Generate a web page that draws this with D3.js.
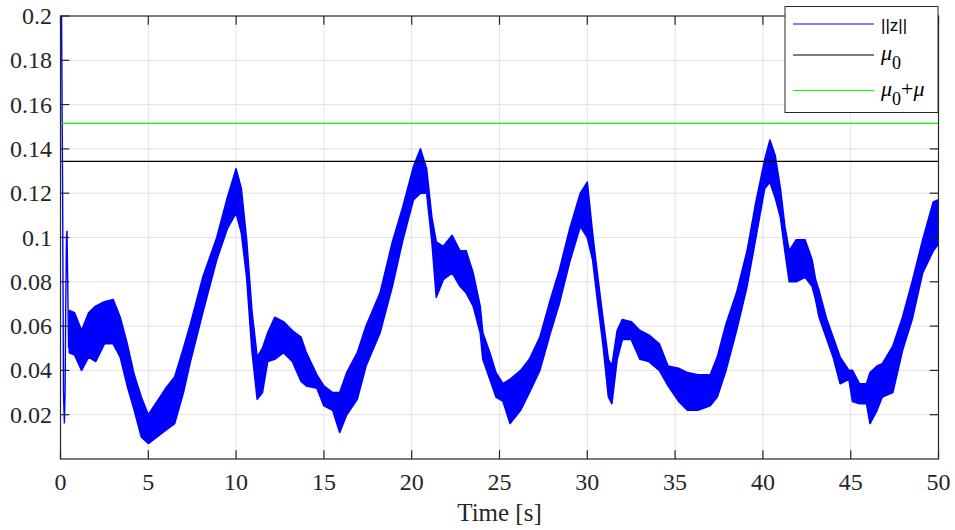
<!DOCTYPE html>
<html><head><meta charset="utf-8">
<script src="https://cdn.jsdelivr.net/npm/d3@7"></script>
<style>
body{margin:0;background:#fff}
text.serif{font-family:"Liberation Serif","Times New Roman",serif;}
text.sans{font-family:"Liberation Sans",Arial,sans-serif;}
</style>
</head><body><svg id="c" width="955" height="530"></svg>
<script>
// ---- data ----
const xTicks = [0,5,10,15,20,25,30,35,40,45,50];
const yTicks = [0.02,0.04,0.06,0.08,0.1,0.12,0.14,0.16,0.18,0.2];
const yTickLabels = ["0.02","0.04","0.06","0.08","0.1","0.12","0.14","0.16","0.18","0.2"];
const mu0 = 0.1344;
const mu0PlusMu = 0.1515;
// initial transient of ||z||
const transT = [0, 0.06, 0.12, 0.17, 0.22, 0.26, 0.3, 0.34, 0.37, 0.41, 0.46, 0.5];
const transV = [0.2, 0.2, 0.12, 0.03, 0.016, 0.03, 0.07, 0.1, 0.103, 0.08, 0.05, 0.06];
// upper / lower envelope of the dense oscillating ||z|| trace
const envT  = [0.5,0.8,1.2,1.6,2.0,2.5,3.0,3.4,3.8,4.2,4.6,5.0,5.5,6.0,6.5,7.0,7.4,8.1,8.9,9.5,10.0,10.3,10.6,10.9,11.2,11.5,11.8,12.2,12.7,13.2,13.7,14.0,14.6,15.0,15.5,15.9,16.3,16.9,17.4,18.2,18.9,19.5,20.1,20.5,20.85,21.15,21.4,21.8,22.3,22.75,23.1,23.5,23.9,24.05,24.45,24.8,25.2,25.6,26.2,26.7,27.3,27.9,28.4,29.0,29.6,30.0,30.3,30.6,30.9,31.2,31.4,31.7,32.0,32.5,33.0,33.5,34.1,34.6,35.2,35.7,36.3,37.0,37.4,37.9,38.5,39.1,39.6,40.1,40.4,40.7,41.0,41.25,41.5,41.9,42.4,42.8,43.0,43.2,43.6,44.0,44.4,44.9,45.1,45.5,45.9,46.1,46.5,46.8,47.4,47.95,48.5,49.1,49.7,50.0];
const envHi = [0.067,0.066,0.058,0.066,0.069,0.071,0.072,0.064,0.052,0.038,0.028,0.020,0.026,0.032,0.037,0.050,0.061,0.082,0.100,0.118,0.131,0.122,0.099,0.067,0.046,0.050,0.057,0.064,0.062,0.058,0.055,0.048,0.038,0.033,0.030,0.030,0.039,0.048,0.060,0.075,0.098,0.114,0.132,0.140,0.131,0.109,0.098,0.096,0.101,0.094,0.094,0.084,0.069,0.057,0.048,0.039,0.034,0.036,0.040,0.045,0.055,0.072,0.085,0.104,0.120,0.125,0.102,0.082,0.063,0.045,0.042,0.058,0.063,0.062,0.058,0.056,0.052,0.042,0.041,0.039,0.038,0.038,0.046,0.061,0.075,0.094,0.116,0.135,0.144,0.137,0.122,0.105,0.094,0.099,0.099,0.090,0.081,0.076,0.064,0.055,0.046,0.040,0.040,0.034,0.034,0.039,0.042,0.043,0.051,0.064,0.080,0.099,0.116,0.117];
const envLo = [0.048,0.047,0.040,0.046,0.044,0.052,0.052,0.046,0.033,0.022,0.010,0.007,0.010,0.013,0.016,0.030,0.044,0.066,0.090,0.104,0.111,0.102,0.082,0.049,0.027,0.030,0.044,0.045,0.048,0.044,0.035,0.033,0.032,0.024,0.022,0.012,0.020,0.027,0.042,0.057,0.078,0.099,0.117,0.120,0.120,0.098,0.073,0.081,0.084,0.078,0.075,0.069,0.057,0.045,0.036,0.028,0.026,0.016,0.022,0.030,0.040,0.057,0.070,0.089,0.105,0.100,0.090,0.070,0.051,0.028,0.025,0.045,0.054,0.054,0.045,0.044,0.040,0.033,0.026,0.022,0.022,0.024,0.028,0.040,0.058,0.078,0.100,0.122,0.125,0.118,0.109,0.094,0.080,0.080,0.082,0.078,0.072,0.064,0.055,0.046,0.034,0.036,0.026,0.025,0.025,0.016,0.022,0.028,0.030,0.049,0.063,0.084,0.094,0.097];

// ---- layout ----
const L = 60.5, R = 938.5, T = 16, B = 459;
const axisCol = "#262626", gridCol = "#e3e3e3";
const svg = d3.select("#c");
const x = d3.scaleLinear().domain([0,50]).range([L,R]);
const y = d3.scaleLinear().domain([0,0.2]).range([B,T]);

// grid
const g = svg.append("g");
g.selectAll("line.vg").data(xTicks.slice(1,-1)).enter().append("line")
  .attr("x1",d=>x(d)).attr("x2",d=>x(d)).attr("y1",T).attr("y2",B)
  .attr("stroke",gridCol).attr("stroke-width",1);
g.selectAll("line.hg").data(yTicks.slice(0,-1)).enter().append("line")
  .attr("y1",d=>y(d)).attr("y2",d=>y(d)).attr("x1",L).attr("x2",R)
  .attr("stroke",gridCol).attr("stroke-width",1);

// data
svg.append("clipPath").attr("id","clp").append("rect")
  .attr("x",L).attr("y",T).attr("width",R-L).attr("height",B-T);
const dg = svg.append("g").attr("clip-path","url(#clp)");
const env = envT.map((t,i)=>({t, hi:envHi[i], lo:envLo[i]}));
dg.append("path").datum(env)
  .attr("d", d3.area().x(d=>x(d.t)).y0(d=>y(d.lo)).y1(d=>y(d.hi)))
  .attr("fill","#0000ff").attr("stroke","#0000ff").attr("stroke-width",1.6).attr("stroke-linejoin","round");
const tr = transT.map((t,i)=>({t, v:transV[i]}));
dg.append("path").datum(tr)
  .attr("d", d3.line().x(d=>x(d.t)).y(d=>y(d.v)))
  .attr("fill","none").attr("stroke","#0000ff").attr("stroke-width",1.4);
dg.append("line").attr("x1",x(0)).attr("x2",x(50)).attr("y1",y(mu0)).attr("y2",y(mu0))
  .attr("stroke","#000").attr("stroke-width",1.2);
dg.append("line").attr("x1",x(0)).attr("x2",x(50)).attr("y1",y(mu0PlusMu)).attr("y2",y(mu0PlusMu))
  .attr("stroke","#00ff00").attr("stroke-width",1.2);

// axes (box with inward ticks)
const tl = 8.8;
const ax = svg.append("g").attr("stroke",axisCol).attr("stroke-width",1.2);
ax.append("rect").attr("x",L).attr("y",T).attr("width",R-L).attr("height",B-T).attr("fill","none");
xTicks.forEach(d=>{
  ax.append("line").attr("x1",x(d)).attr("x2",x(d)).attr("y1",B).attr("y2",B-tl);
  ax.append("line").attr("x1",x(d)).attr("x2",x(d)).attr("y1",T).attr("y2",T+tl);
});
yTicks.forEach(d=>{
  ax.append("line").attr("y1",y(d)).attr("y2",y(d)).attr("x1",L).attr("x2",L+tl);
  ax.append("line").attr("y1",y(d)).attr("y2",y(d)).attr("x1",R).attr("x2",R-tl);
});

svg.append("g").selectAll("text").data(xTicks).enter().append("text")
  .attr("class","serif")
  .attr("x",d=>x(d)).attr("y",490).attr("text-anchor","middle")
  .style("font-size","24px").attr("fill",axisCol).text(d=>String(d));
svg.append("g").selectAll("text").data(yTickLabels).enter().append("text")
  .attr("class","serif")
  .attr("x",52).attr("y",(d,i)=>y(yTicks[i])+8).attr("text-anchor","end")
  .style("font-size","24px").attr("fill",axisCol).text(d=>d);
svg.append("text").attr("class","serif").attr("x",(L+R)/2).attr("y",521).attr("text-anchor","middle")
  .style("font-size","25px").attr("fill",axisCol).text("Time [s]");

// legend
const lg = svg.append("g");
lg.append("rect").attr("x",785).attr("y",6.5).attr("width",153).attr("height",106)
  .attr("fill","#fff").attr("stroke",axisCol).attr("stroke-width",1);
const items = [{c:"#0000ff", y:24},{c:"#000000", y:55},{c:"#00ff00", y:90.5}];
items.forEach(it=>{
  lg.append("line").attr("x1",793).attr("x2",874).attr("y1",it.y).attr("y2",it.y)
    .attr("stroke",it.c).attr("stroke-width",1.2);
});
lg.append("text").attr("class","sans").attr("x",881).attr("y",31)
  .style("font-size","17px").attr("fill","#000").text("||z||");
const t2 = lg.append("text").attr("class","serif").attr("x",881).attr("y",60).style("font-size","22px").attr("fill","#000");
t2.append("tspan").style("font-style","italic").text("μ");
t2.append("tspan").attr("dy",9).style("font-size","18px").text("0");
const t3 = lg.append("text").attr("class","serif").attr("x",881).attr("y",96).style("font-size","22px").attr("fill","#000");
t3.append("tspan").style("font-style","italic").text("μ");
t3.append("tspan").attr("dy",9).style("font-size","18px").text("0");
t3.append("tspan").attr("dy",-9).text("+");
t3.append("tspan").style("font-style","italic").text("μ");
</script></body></html>
